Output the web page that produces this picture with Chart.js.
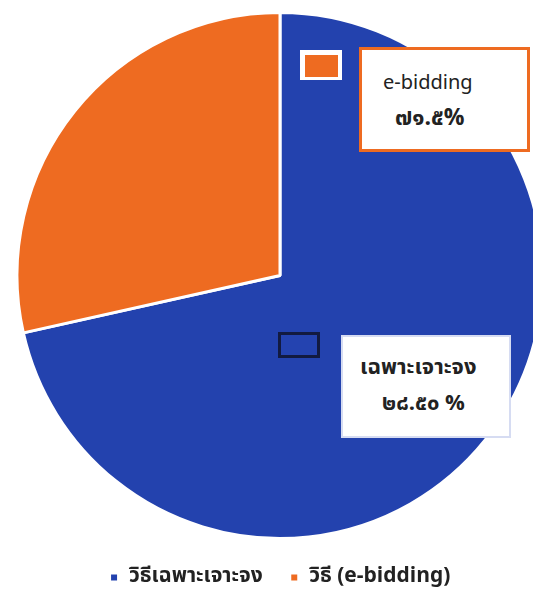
<!DOCTYPE html>
<html lang="th">
  <head>
    <meta charset="UTF-8" />
    <title>วิธีจัดซื้อจัดจ้าง</title>
    <script src="https://cdn.jsdelivr.net/npm/chart.js"></script>
    <style>
      html,
      body {
        margin: 0;
        padding: 0;
        background: #fff;
        overflow: hidden;
        width: 533px;
        height: 594px;
        font-family: "Noto Sans Thai", "Loma", "Garuda", "Tlwg Typo", "DejaVu Sans", sans-serif;
      }
      .wrap {
        position: absolute;
        left: 0;
        top: 0;
        width: 560px;
        height: 598px;
      }
      .box {
        position: absolute;
        background: #fff;
        box-sizing: border-box;
        color: #222;
      }
      .mark {
        position: absolute;
        box-sizing: border-box;
      }
    </style>
  </head>
  <body>
    <div class="wrap">
      <canvas id="pieChart"></canvas>
    </div>

    <!-- small markers + boxes sitting on the pie -->
    <div class="mark" style="left:300px;top:50px;width:42px;height:30px;background:#fff;padding:5px 4px 3px 5px;">
      <div style="width:100%;height:100%;background:#ee6b21;"></div>
    </div>
    <div class="box" style="left:359px;top:47px;width:171px;height:105px;border:3px solid #ee6b21;">
      <div style="position:absolute;left:21px;top:18px;font-size:20px;">e-bidding</div>
      <div style="position:absolute;left:33px;top:51px;font-size:23px;font-weight:bold;">๗๑.๕%</div>
    </div>

    <div class="mark" style="left:278px;top:332px;width:42px;height:26px;border:3px solid #121a40;background:#2443b0;"></div>
    <div class="box" style="left:341px;top:335px;width:170px;height:103px;border:2px solid #d6dcf2;">
      <div style="position:absolute;left:17px;top:14px;font-size:22px;font-weight:bold;">เฉพาะเจาะจง</div>
      <div style="position:absolute;left:39px;top:50px;font-size:22px;font-weight:bold;">๒๘.๕๐ %</div>
    </div>

    <script>
      const methods = ["วิธีเฉพาะเจาะจง", "วิธี (e-bidding)"];
      const shares = [71.5, 28.5];
      const colors = ["#2342ae", "#ee6b21"];

      const ctx = document.getElementById("pieChart").getContext("2d");
      new Chart(ctx, {
        type: "pie",
        data: {
          labels: methods,
          datasets: [
            {
              data: shares,
              backgroundColor: colors,
              borderColor: "#fff",
              borderWidth: 3,
              hoverOffset: 0,
            },
          ],
        },
        options: {
          responsive: true,
          maintainAspectRatio: false,
          animation: false,
          layout: { padding: { left: 15, right: 15, top: 11, bottom: 0 } },
          plugins: {
            tooltip: { enabled: false },
            legend: {
              position: "bottom",
              labels: {
                boxWidth: 9,
                boxHeight: 9,
                padding: 27,
                color: "#222",
                font: {
                  size: 21,
                  weight: "bold",
                  family: "'Noto Sans Thai', 'Loma', 'Garuda', 'DejaVu Sans', sans-serif",
                },
              },
            },
          },
        },
      });
    </script>
  </body>
</html>
